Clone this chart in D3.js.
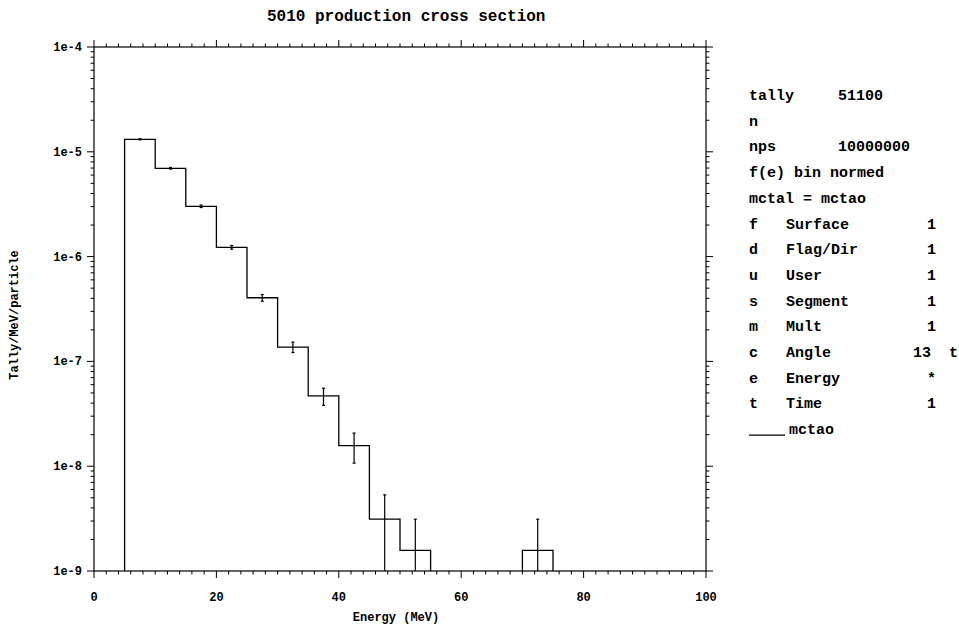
<!DOCTYPE html>
<html>
<head>
<meta charset="utf-8">
<script src="https://cdn.jsdelivr.net/npm/d3@7"></script>
<style>
  html, body { margin: 0; padding: 0; background: #fff; }
  svg { display: block; }
  text { font-family: "Liberation Mono", "DejaVu Sans Mono", monospace; font-weight: bold; fill: #000; }
</style>
</head>
<body>
<svg id="chart" width="959" height="625"></svg>
<script>
// ---- data ----
const binEdges = [0,5,10,15,20,25,30,35,40,45,50,55,60,65,70,75,80,85,90,95,100];
const binValues = [0, 1.316e-5, 6.96e-6, 3.02e-6, 1.227e-6, 4.05e-7, 1.37e-7, 4.68e-8, 1.57e-8, 3.13e-9, 1.57e-9, 0, 0, 0, 1.57e-9, 0, 0, 0, 0, 0];
const binErrors = [0, 1.5e-7, 1.2e-7, 8e-8, 5e-8, 3e-8, 1.55e-8, 8.7e-9, 5e-9, 2.2e-9, 1.55e-9, 0, 0, 0, 1.55e-9, 0, 0, 0, 0, 0];
const xTicks = [0, 20, 40, 60, 80, 100];
const yTicks = [1e-9, 1e-8, 1e-7, 1e-6, 1e-5, 1e-4];
const yTickLabels = ["1e-9", "1e-8", "1e-7", "1e-6", "1e-5", "1e-4"];
const titleText = "5010 production cross section";
const xLabel = "Energy (MeV)";
const yLabel = "Tally/MeV/particle";
const legendRows = [
  ["tally", "51100", ""],
  ["n", "", ""],
  ["nps", "10000000", ""],
  ["f(e) bin normed", "", ""],
  ["mctal = mctao", "", ""],
  ["f", "Surface", "1"],
  ["d", "Flag/Dir", "1"],
  ["u", "User", "1"],
  ["s", "Segment", "1"],
  ["m", "Mult", "1"],
  ["c", "Angle", "13  t"],
  ["e", "Energy", "*"],
  ["t", "Time", "1"]
];
const seriesName = "mctao";

// ---- layout ----
const L = 94, R = 706, T = 47, B = 571;
const svg = d3.select("#chart");
const x = d3.scaleLinear().domain([0, 100]).range([L, R]);
const y = d3.scaleLog().domain([1e-9, 1e-4]).range([B, T]);

// clip
svg.append("defs").append("clipPath").attr("id", "clip")
  .append("rect").attr("x", L).attr("y", T).attr("width", R - L).attr("height", B - T);

// frame
svg.append("rect").attr("x", L).attr("y", T).attr("width", R - L).attr("height", B - T)
  .attr("fill", "none").attr("stroke", "#000").attr("stroke-width", 1.2);

// x ticks (minor every 2, major every 20)
const xMinor = d3.range(0, 101, 2);
const tickG = svg.append("g").attr("stroke", "#000").attr("stroke-width", 1);
xMinor.forEach(v => {
  const major = v % 20 === 0;
  const len = major ? 7 : 3.5;
  const px = x(v);
  tickG.append("line").attr("x1", px).attr("x2", px).attr("y1", B).attr("y2", B + len);
  tickG.append("line").attr("x1", px).attr("x2", px).attr("y1", T).attr("y2", T - len);
});

// y ticks (log minor)
const yMinor = [];
for (let e = -9; e < -4; e++) for (let m = 1; m <= 9; m++) yMinor.push(m * Math.pow(10, e));
yMinor.push(1e-4);
yMinor.forEach(v => {
  const major = Math.abs(Math.log10(v) - Math.round(Math.log10(v))) < 1e-9;
  const len = major ? 7 : 3.5;
  const py = y(v);
  tickG.append("line").attr("x1", L).attr("x2", L - len).attr("y1", py).attr("y2", py);
  tickG.append("line").attr("x1", R).attr("x2", R + len).attr("y1", py).attr("y2", py);
});

// tick labels
svg.append("g").selectAll("text").data(xTicks).join("text")
  .attr("x", d => x(d)).attr("y", 601).attr("text-anchor", "middle")
  .attr("font-size", 12).text(d => d);
svg.append("g").selectAll("text").data(yTicks).join("text")
  .attr("x", 82).attr("y", d => y(d) + 4).attr("text-anchor", "end")
  .attr("font-size", 12).text((d, i) => yTickLabels[i]);

// axis titles
svg.append("text").attr("x", 267).attr("y", 21).attr("font-size", 16).text(titleText);
svg.append("text").attr("x", 396).attr("y", 621).attr("text-anchor", "middle")
  .attr("font-size", 12).text(xLabel);
svg.append("text").attr("transform", "translate(18,315) rotate(-90)")
  .attr("text-anchor", "middle").attr("font-size", 12).text(yLabel);

// histogram
const yv = v => v > 0 ? y(v) : B + 2;
const pts = [];
binValues.forEach((v, i) => {
  pts.push([x(binEdges[i]), yv(v)]);
  pts.push([x(binEdges[i + 1]), yv(v)]);
});
const plotG = svg.append("g").attr("clip-path", "url(#clip)");
plotG.append("path").attr("d", d3.line()(pts))
  .attr("fill", "none").attr("stroke", "#000").attr("stroke-width", 1.3);

// error bars
binValues.forEach((v, i) => {
  if (!(v > 0)) return;
  const e = binErrors[i];
  const cx = x((binEdges[i] + binEdges[i + 1]) / 2);
  const hi = v + e, lo = v - e;
  const yHi = y(hi);
  const yLo = lo > 0 ? y(lo) : B + 5;
  plotG.append("line").attr("x1", cx).attr("x2", cx).attr("y1", yHi).attr("y2", yLo)
    .attr("stroke", "#000").attr("stroke-width", 1.2);
  plotG.append("line").attr("x1", cx - 1.5).attr("x2", cx + 1.5).attr("y1", yHi).attr("y2", yHi)
    .attr("stroke", "#000").attr("stroke-width", 1.2);
  if (lo > 0) plotG.append("line").attr("x1", cx - 1.5).attr("x2", cx + 1.5).attr("y1", yLo).attr("y2", yLo)
    .attr("stroke", "#000").attr("stroke-width", 1.2);
});

// legend / info block
const lg = svg.append("g").attr("font-size", 15);
const rowY = i => 100 + i * 25.7;
legendRows.forEach((r, i) => {
  const by = rowY(i);
  lg.append("text").attr("x", 749).attr("y", by).attr("xml:space", "preserve").style("white-space", "pre").text(r[0]);
  if (r[1]) {
    const x2 = (i < 3) ? 838 : 786;
    lg.append("text").attr("x", x2).attr("y", by).text(r[1]);
  }
  if (r[2]) {
    const x3 = r[2] === "13  t" ? 913 : 927;
    lg.append("text").attr("x", x3).attr("y", by).style("white-space", "pre").text(r[2]);
  }
});
const ly = rowY(legendRows.length);
lg.append("line").attr("x1", 749).attr("x2", 785).attr("y1", ly + 1).attr("y2", ly + 1)
  .attr("stroke", "#000").attr("stroke-width", 1.2);
lg.append("text").attr("x", 789).attr("y", ly).text(seriesName);
</script>
</body>
</html>
